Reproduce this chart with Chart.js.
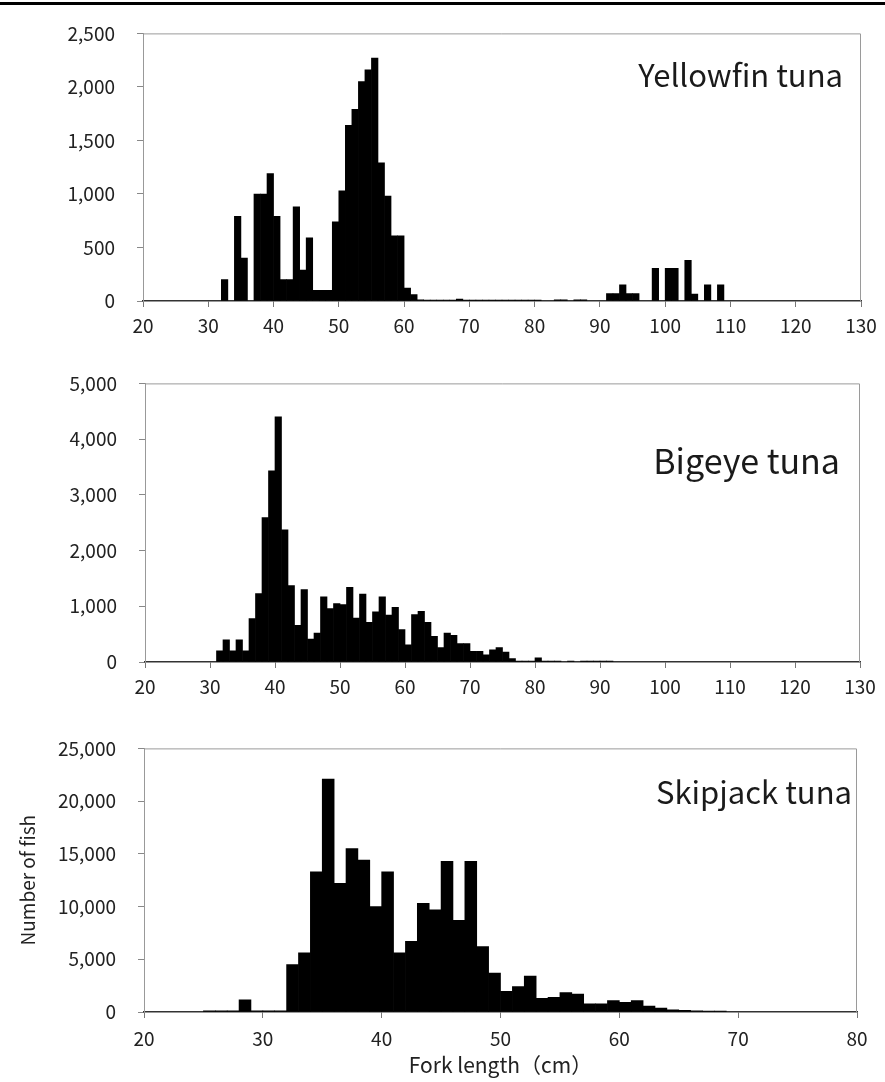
<!DOCTYPE html>
<html>
<head>
<meta charset="utf-8">
<script src="https://cdn.jsdelivr.net/npm/chart.js@4.4.1/dist/chart.umd.min.js"></script>
<style>
  body { margin: 0; background: #fff; width: 885px; height: 1082px; position: relative; overflow: hidden; }
  .raya { position: absolute; left: 0; top: 2px; width: 885px; height: 3px; background: #000; }
  canvas { position: absolute; left: 0; }
</style>
</head>
<body>
<div class="raya"></div>
<canvas id="c1" width="885" height="350" style="top:0px"></canvas>
<canvas id="c2" width="885" height="360" style="top:350px"></canvas>
<canvas id="c3" width="885" height="367" style="top:715px"></canvas>
<script>
// bins de 1 cm (limite inferior) y numero de peces
const yfBins = [32,34,35,37,38,39,40,41,42,43,44,45,46,47,48,49,50,51,52,53,54,55,56,57,58,59,60,61,62,63,64,65,66,67,68,69,70,71,72,73,74,75,76,77,78,79,80,83,84,86,87,91,92,93,94,95,98,100,101,103,104,106,108]
const yfCount = [200,790,400,1000,1000,1190,790,200,200,880,290,590,100,100,100,740,1030,1640,1790,2050,2160,2270,1290,980,610,610,120,60,12,8,8,8,8,8,18,8,8,8,8,8,8,8,8,8,8,8,8,12,12,12,12,70,70,150,70,70,305,305,305,380,65,150,150]

const beBins = [31,32,33,34,35,36,37,38,39,40,41,42,43,44,45,46,47,48,49,50,51,52,53,54,55,56,57,58,59,60,61,62,63,64,65,66,67,68,69,70,71,72,73,74,75,76,77,78,79,80,81,82,83,85,87,88,89,90,91]
const beCount = [200,400,200,400,200,780,1230,2590,3430,4400,2370,1370,660,1300,410,520,1170,960,1050,1030,1340,790,1220,710,900,1170,840,980,580,310,850,910,710,460,260,520,480,330,330,190,190,130,220,260,180,60,17,17,17,75,17,17,17,15,15,15,15,15,15]

const skBins = [25,26,27,28,29,30,31,32,33,34,35,36,37,38,39,40,41,42,43,44,45,46,47,48,49,50,51,52,53,54,55,56,57,58,59,60,61,62,63,64,65,66,67,68]
const skCount = [100,100,100,1150,100,100,100,4500,5600,13300,22100,12200,15500,14400,10000,13300,5600,6700,10300,9700,14300,8700,14300,6200,3700,1950,2400,3400,1300,1400,1850,1700,770,770,1080,925,1080,555,370,216,150,100,80,80]

const fuente = '"Noto Sans CJK JP", "Noto Sans", sans-serif'

// marco gris arriba y a la derecha + nombre de la especie
const marco = {
  id: 'marco',
  afterDraw(chart, args, opts) {
    const { ctx, chartArea: a } = chart
    ctx.save()
    ctx.strokeStyle = '#9a9a9a'
    ctx.lineWidth = 1
    ctx.beginPath()
    ctx.moveTo(a.left, a.top + 0.5)
    ctx.lineTo(a.right - 0.5, a.top + 0.5)
    ctx.lineTo(a.right - 0.5, a.bottom)
    ctx.stroke()
    ctx.font = opts.tam + 'px ' + fuente
    ctx.fillStyle = '#1a1a1a'
    ctx.textAlign = 'right'
    ctx.fillText(opts.texto, a.right - opts.dx, a.top + opts.dy)
    ctx.restore()
  }
}

function histograma(id, nombre, bins, cuentas, o) {
  const ctx = document.getElementById(id)
  new Chart(ctx, {
    type: 'bar',
    data: {
      datasets: [{
        label: nombre,
        data: bins.map((b, i) => ({ x: b + 0.5, y: cuentas[i] })), // centro del bin
        backgroundColor: '#000',
        borderWidth: 0,
        barPercentage: 1,
        categoryPercentage: 1
      }]
    },
    options: {
      responsive: false,
      animation: false,
      layout: { padding: { top: o.top, right: o.right, left: 0, bottom: 0 } },
      plugins: {
        legend: { display: false },
        tooltip: { enabled: false },
        marco: { texto: nombre, dx: o.dx, dy: o.dy, tam: o.tam }
      },
      scales: {
        x: {
          type: 'linear',
          min: o.xmin,
          max: o.xmax,
          offset: false,
          ticks: { stepSize: 10, color: '#222', font: { family: fuente, size: 19 }, padding: o.xpad, maxRotation: 0 },
          grid: { drawOnChartArea: false, offset: false, tickLength: 6, color: '#777' },
          border: { color: '#333', width: 1.5 },
          title: o.xtitulo ? { display: true, text: o.xtitulo, color: '#222', font: { family: fuente, size: 21 }, padding: { top: 0 } } : { display: false },
          afterFit: s => { s.height = o.xh }
        },
        y: {
          min: 0,
          max: o.ymax,
          ticks: { stepSize: o.paso, color: '#222', font: { family: fuente, size: 19 }, padding: 22, callback: v => v.toLocaleString('en-US') },
          grid: { drawOnChartArea: false, tickLength: 6, color: '#888' },
          border: { color: '#999', width: 1 },
          title: o.ytitulo ? { display: true, text: o.ytitulo, color: '#222', font: { family: fuente, size: 19 }, padding: { top: 16, bottom: 0 } } : { display: false },
          afterFit: s => { s.width = o.left }
        }
      }
    },
    plugins: [marco]
  })
}

histograma('c1', 'Yellowfin tuna', yfBins, yfCount,
  { top: 21, right: 24, left: 143, xh: 49, xpad: 7, xmin: 20, xmax: 130, ymax: 2500, paso: 500, dx: 18, dy: 54, tam: 31 })
histograma('c2', 'Bigeye tuna', beBins, beCount,
  { top: 26, right: 25, left: 145, xh: 48, xpad: 7, xmin: 20, xmax: 130, ymax: 5000, paso: 1000, dx: 20, dy: 91, tam: 34 })
histograma('c3', 'Skipjack tuna', skBins, skCount,
  { top: 27, right: 28, left: 144, xh: 70, xpad: 9, xmin: 20, xmax: 80, ymax: 25000, paso: 5000, dx: 5, dy: 56, tam: 31,
    xtitulo: 'Fork length（cm）', ytitulo: 'Number of fish' })
</script>
</body>
</html>
